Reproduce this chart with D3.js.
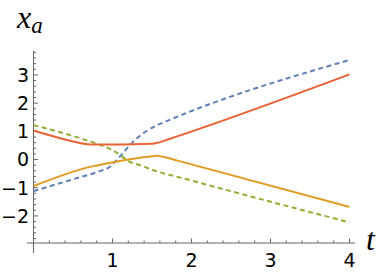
<!DOCTYPE html>
<html>
<head>
<meta charset="utf-8">
<script src="https://cdn.jsdelivr.net/npm/d3@7"></script>
<style>
body { margin: 0; background: #fff; }
</style>
</head>
<body>
<svg id="chart" width="382" height="275"></svg>
<script>
// curve points (t, value)
const redT = [0, 0.6, 0.68, 0.78, 1.5, 1.58, 1.7, 4];
const redY = [1.03, 0.58, 0.54, 0.53, 0.56, 0.6, 0.71, 3.02];
const orangeT = [0, 0.62, 0.7, 0.8, 1.35, 1.5, 1.57, 1.65, 1.8, 4];
const orangeY = [-0.94, -0.33, -0.27, -0.21, 0.06, 0.12, 0.13, 0.09, -0.02, -1.68];
const blueT = [0, 0.5, 0.85, 0.95, 1.1, 1.25, 1.4, 1.55, 1.7, 4];
const blueY = [-1.12, -0.7, -0.4, -0.29, 0.13, 0.6, 0.95, 1.2, 1.38, 3.53];
const greenT = [0, 0.6, 0.7, 1.05, 1.22, 1.35, 1.51, 1.94, 4];
const greenY = [1.22, 0.75, 0.66, 0.25, -0.08, -0.2, -0.37, -0.7, -2.23];

const xMajor = [1, 2, 3, 4];
const yMajor = [-2, -1, 0, 1, 2, 3];

const svg = d3.select("#chart");
const x = d3.scaleLinear().domain([0, 4]).range([33.5, 349.5]);
const y = d3.scaleLinear().domain([-2.96, 3.86]).range([243, 50.7]);
const axisColor = "#666";

// axes lines
svg.append("line").attr("x1", 27).attr("x2", 355).attr("y1", y(-2.96)).attr("y2", y(-2.96))
    .attr("stroke", axisColor).attr("stroke-width", 1);
svg.append("line").attr("x1", x(0)).attr("x2", x(0)).attr("y1", y(3.86)).attr("y2", 253)
    .attr("stroke", axisColor).attr("stroke-width", 1);

// ticks
const xMinor = d3.range(1, 21).map(i => i * 0.2).filter(v => !xMajor.some(m => Math.abs(m - v) < 1e-6));
const yMinor = d3.range(-14, 20).map(i => i * 0.2).filter(v => !yMajor.some(m => Math.abs(m - v) < 1e-6));

svg.selectAll(".xtick").data(xMajor.map(v => ({ v, len: 4.5 })).concat(xMinor.map(v => ({ v, len: 2.5 }))))
    .enter().append("line")
    .attr("x1", d => x(d.v)).attr("x2", d => x(d.v))
    .attr("y1", y(-2.96)).attr("y2", d => y(-2.96) - d.len)
    .attr("stroke", axisColor);
svg.selectAll(".ytick").data(yMajor.map(v => ({ v, len: 4.5 })).concat(yMinor.map(v => ({ v, len: 2.5 }))))
    .enter().append("line")
    .attr("y1", d => y(d.v)).attr("y2", d => y(d.v))
    .attr("x1", x(0)).attr("x2", d => x(0) + d.len)
    .attr("stroke", axisColor);

// tick labels
const fmt = v => v < 0 ? "\u2212" + Math.abs(v) : String(v);
svg.selectAll(".xlab").data(xMajor).enter().append("text")
    .attr("x", d => x(d)).attr("y", 267)
    .attr("text-anchor", "middle")
    .style("font-family", "DejaVu Sans").style("font-size", "19px")
    .text(fmt);
svg.selectAll(".ylab").data(yMajor).enter().append("text")
    .attr("x", 29).attr("y", d => y(d)).attr("dy", "0.36em")
    .attr("text-anchor", "end")
    .style("font-family", "DejaVu Sans").style("font-size", "19px")
    .text(fmt);

// axis labels
const xa = svg.append("text").attr("x", 17).attr("y", 28)
    .style("font-family", "Liberation Serif").style("font-style", "italic").style("font-size", "32px");
xa.append("tspan").text("x");
xa.append("tspan").attr("dy", 5).style("font-size", "23px").text("a");
svg.append("text").attr("x", 366).attr("y", 250)
    .style("font-family", "Liberation Serif").style("font-style", "italic").style("font-size", "32px")
    .text("t");

// curves
const line = d3.line().x(d => x(d[0])).y(d => y(d[1])).curve(d3.curveMonotoneX);
const series = [
    { t: blueT, v: blueY, color: "#5E81B5", dash: "5,3.5" },
    { t: greenT, v: greenY, color: "#8FB032", dash: "5,3.5" },
    { t: orangeT, v: orangeY, color: "#E19C24", dash: null },
    { t: redT, v: redY, color: "#EB6235", dash: null }
];
series.forEach(s => {
    svg.append("path")
        .datum(s.t.map((t, i) => [t, s.v[i]]))
        .attr("d", line)
        .attr("fill", "none")
        .attr("stroke", s.color)
        .attr("stroke-width", 2)
        .attr("stroke-dasharray", s.dash);
});
</script>
</body>
</html>
